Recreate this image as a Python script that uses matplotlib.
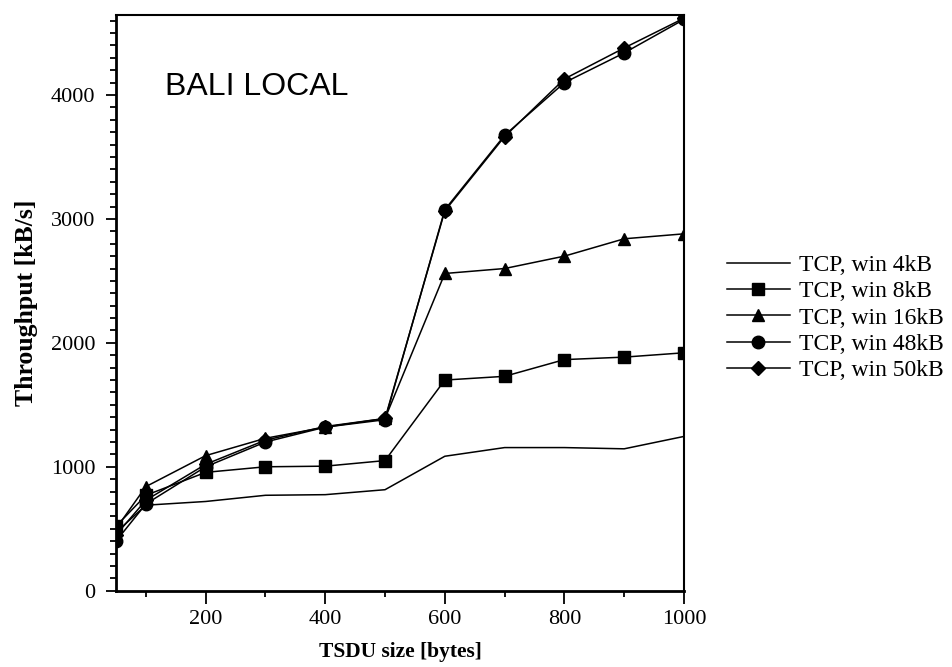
import numpy as np
import matplotlib.pyplot as plt
from matplotlib.ticker import MultipleLocator, FixedLocator

# TSDU size [bytes]
tsdu = [50, 100, 200, 300, 400, 500, 600, 700, 800, 900, 1000]

# throughput [kB/s] per window size
win4 = [470, 690, 720, 770, 775, 815, 1085, 1155, 1155, 1145, 1245]
win8 = [520, 770, 955, 1000, 1005, 1050, 1700, 1730, 1865, 1885, 1920]
win16 = [500, 840, 1090, 1230, 1320, 1390, 2560, 2600, 2700, 2840, 2880]
win48 = [400, 700, 1000, 1200, 1320, 1380, 3075, 3675, 4100, 4340, 4610]
win50 = [450, 730, 1020, 1215, 1325, 1390, 3065, 3665, 4130, 4380, 4620]

labels = ['TCP, win 4kB', 'TCP, win 8kB', 'TCP, win 16kB',
          'TCP, win 48kB', 'TCP, win 50kB']
xticks = [200, 400, 600, 800, 1000]
yticks = [0, 1000, 2000, 3000, 4000]

plt.rcParams['font.family'] = ['Liberation Serif', 'DejaVu Serif']

fig = plt.figure(figsize=(9.53, 6.67), dpi=100)
ax = fig.add_axes([0.1217, 0.1144, 0.596, 0.8631])

ax.plot(tsdu, win4, 'k-', lw=1.1, label=labels[0])
ax.plot(tsdu, win8, 'k-', lw=1.1, marker='s', ms=9, label=labels[1])
ax.plot(tsdu, win16, 'k-', lw=1.1, marker='^', ms=9, label=labels[2])
ax.plot(tsdu, win48, 'k-', lw=1.1, marker='o', ms=9, label=labels[3])
ax.plot(tsdu, win50, 'k-', lw=1.1, marker='D', ms=7, label=labels[4])

ax.set_xlim(50, 1000)
ax.set_ylim(0, 4646)
ax.xaxis.set_major_locator(FixedLocator(xticks))
ax.xaxis.set_minor_locator(FixedLocator([100, 300, 500, 700, 900]))
ax.yaxis.set_major_locator(FixedLocator(yticks))
ax.yaxis.set_minor_locator(MultipleLocator(100))

ax.tick_params(axis='x', which='major', direction='out', length=9, width=1.3, labelsize=16, pad=5)
ax.tick_params(axis='x', which='minor', direction='out', length=4, width=1.3)
ax.tick_params(axis='y', which='major', direction='out', length=7, width=1.3, labelsize=16, pad=8)
ax.tick_params(axis='y', which='minor', direction='out', length=4, width=1.3)

ax.spines['left'].set_linewidth(2)
ax.spines['bottom'].set_linewidth(2)
ax.spines['top'].set_linewidth(1.5)
ax.spines['right'].set_linewidth(1.5)

ax.set_xlabel('TSDU size [bytes]', fontsize=15.5, fontweight='bold', labelpad=9)
ax.set_ylabel('Throughput [kB/s]', fontsize=18.5, fontweight='bold', labelpad=9)

ax.text(132, 4000, 'BALI LOCAL', family='Liberation Sans', fontsize=23, va='baseline')

ax.legend(loc='center left', bbox_to_anchor=(1.076, 0.474), frameon=False,
          fontsize=17, handlelength=2.65, labelspacing=0.2, handletextpad=0.4,
          borderpad=0, borderaxespad=0)

fig.savefig('out.png', dpi=100)
